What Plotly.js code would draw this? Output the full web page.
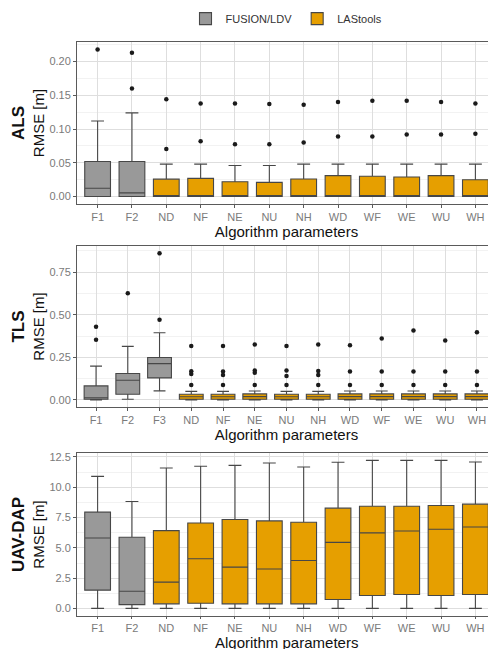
<!DOCTYPE html>
<html>
<head>
<meta charset="utf-8">
<script src="https://cdn.plot.ly/plotly-3.0.1.min.js"></script>
<style>
html,body{margin:0;padding:0;overflow:hidden;background:#fff;}
#chart{width:500px;height:680px;}
</style>
</head>
<body>
<div id="chart"></div>
<script>
// ---------- Data ----------
const catsALS = ['F1','F2','ND','NF','NE','NU','NH','WD','WF','WE','WU','WH'];
const catsTLS = ['F1','F2','F3','ND','NF','NE','NU','NH','WD','WF','WE','WU','WH'];
const catsUAV = ['F1','F2','ND','NF','NE','NU','NH','WD','WF','WE','WU','WH'];

// ALS
const alsFusCats = ['F1','F2'];
const alsFusQ1 = [0.000, 0.000];
const alsFusMed = [0.0124, 0.0055];
const alsFusQ3 = [0.052, 0.052];
const alsFusLo = [0.000, 0.000];
const alsFusHi = [0.112, 0.124];
const alsLasCats = ['ND','NF','NE','NU','NH','WD','WF','WE','WU','WH'];
const alsLasQ1 = [0,0,0,0,0,0,0,0,0,0];
const alsLasMed = [0.001,0.001,0.001,0.001,0.001,0.001,0.001,0.001,0.001,0.001];
const alsLasQ3 = [0.0258,0.027,0.022,0.021,0.026,0.031,0.030,0.029,0.031,0.025];
const alsLasLo = [0,0,0,0,0,0,0,0,0,0];
const alsLasHi = [0.048,0.048,0.046,0.046,0.048,0.048,0.048,0.048,0.048,0.048];
const alsOutCats = ['F1','F2','F2','ND','ND','NF','NF','NE','NE','NU','NU','NH','NH','WD','WD','WF','WF','WE','WE','WU','WU','WH','WH'];
const alsOutVals = [0.218,0.213,0.160,0.144,0.0705,0.138,0.082,0.138,0.0774,0.137,0.0774,0.136,0.080,0.140,0.089,0.142,0.089,0.142,0.092,0.140,0.092,0.138,0.093];

// TLS
const tlsFusCats = ['F1','F2','F3'];
const tlsFusQ1 = [0.004, 0.033, 0.129];
const tlsFusMed = [0.012, 0.115, 0.213];
const tlsFusQ3 = [0.082, 0.155, 0.249];
const tlsFusLo = [0.000, 0.004, 0.053];
const tlsFusHi = [0.198, 0.314, 0.394];
const tlsLasCats = ['ND','NF','NE','NU','NH','WD','WF','WE','WU','WH'];
const tlsLasQ1 = [0.004,0.004,0.004,0.004,0.004,0.004,0.004,0.004,0.004,0.004];
const tlsLasMed = [0.018,0.018,0.019,0.018,0.018,0.019,0.019,0.019,0.019,0.019];
const tlsLasQ3 = [0.033,0.033,0.035,0.033,0.033,0.035,0.035,0.035,0.035,0.035];
const tlsLasLo = [0,0,0,0,0,0,0,0,0,0];
const tlsLasHi = [0.05,0.05,0.052,0.05,0.05,0.052,0.052,0.052,0.052,0.052];
const tlsOutCats = ['F1','F1','F2','F3','F3',
  'ND','ND','ND','ND','NF','NF','NF','NF','NE','NE','NE','NE','NU','NU','NU','NU','NH','NH','NH','NH',
  'WD','WD','WD','WF','WF','WF','WE','WE','WE','WU','WU','WU','WH','WH','WH'];
const tlsOutVals = [0.429,0.353,0.627,0.861,0.471,
  0.316,0.168,0.152,0.087,0.316,0.166,0.146,0.087,0.325,0.173,0.160,0.087,0.316,0.173,0.140,0.087,0.325,0.170,0.146,0.087,
  0.321,0.166,0.087,0.360,0.166,0.087,0.407,0.166,0.087,0.349,0.166,0.087,0.397,0.166,0.087];

// UAV-DAP
const uavFusCats = ['F1','F2'];
const uavFusQ1 = [1.52, 0.33];
const uavFusMed = [5.82, 1.43];
const uavFusQ3 = [7.95, 5.88];
const uavFusLo = [0.02, 0.02];
const uavFusHi = [10.9, 8.83];
const uavLasCats = ['ND','NF','NE','NU','NH','WD','WF','WE','WU','WH'];
const uavLasQ1 = [0.39,0.44,0.39,0.39,0.39,0.75,1.08,1.16,1.08,1.16];
const uavLasMed = [2.18,4.11,3.42,3.26,3.97,5.46,6.24,6.40,6.54,6.73];
const uavLasQ3 = [6.43,7.06,7.34,7.23,7.12,8.28,8.44,8.44,8.50,8.61];
const uavLasLo = [0.02,0.02,0.02,0.02,0.02,0.02,0.02,0.02,0.02,0.02];
const uavLasHi = [11.59,11.73,11.81,12.0,11.67,12.06,12.22,12.22,12.22,12.09];

const seriesNames = ['FUSION/LDV','LAStools'];
const panelNames = ['ALS','TLS','UAV-DAP'];
const xTitle = 'Algorithm parameters';
const yUnit = 'RMSE [m]';

// ---------- Styles ----------
const greyFill = '#999999';
const orangeFill = '#E69F00';
const edge = '#474747';

function boxTrace(name, cats, q1, med, q3, lo, hi, fill, xa, ya, show){
  return {
    type:'box', name:name, x:cats, q1:q1, median:med, q3:q3,
    lowerfence:lo, upperfence:hi, boxpoints:false,
    fillcolor:fill, line:{color:edge, width:1.1}, width:0.75,
    xaxis:xa, yaxis:ya, showlegend:show, legendgroup:name, hoverinfo:'skip'
  };
}
function outTrace(cats, vals, xa, ya){
  return {type:'scatter', mode:'markers', x:cats, y:vals, xaxis:xa, yaxis:ya,
    marker:{color:'#1a1a1a', size:4.5}, showlegend:false, hoverinfo:'skip'};
}

const data = [
  boxTrace(seriesNames[0], alsFusCats, alsFusQ1, alsFusMed, alsFusQ3, alsFusLo, alsFusHi, greyFill, 'x','y', true),
  boxTrace(seriesNames[1], alsLasCats, alsLasQ1, alsLasMed, alsLasQ3, alsLasLo, alsLasHi, orangeFill, 'x','y', true),
  outTrace(alsOutCats, alsOutVals, 'x','y'),
  boxTrace(seriesNames[0], tlsFusCats, tlsFusQ1, tlsFusMed, tlsFusQ3, tlsFusLo, tlsFusHi, greyFill, 'x2','y2', false),
  boxTrace(seriesNames[1], tlsLasCats, tlsLasQ1, tlsLasMed, tlsLasQ3, tlsLasLo, tlsLasHi, orangeFill, 'x2','y2', false),
  outTrace(tlsOutCats, tlsOutVals, 'x2','y2'),
  boxTrace(seriesNames[0], uavFusCats, uavFusQ1, uavFusMed, uavFusQ3, uavFusLo, uavFusHi, greyFill, 'x3','y3', false),
  boxTrace(seriesNames[1], uavLasCats, uavLasQ1, uavLasMed, uavLasQ3, uavLasLo, uavLasHi, orangeFill, 'x3','y3', false)
];

const fontFam = 'Liberation Sans, Arial, sans-serif';
const xTitleFont = {family:fontFam, size:15, color:'#111'};
function xAxis(cats, anchor, withTitle, tlen){
  const ax = {
    type:'category', categoryorder:'array', categoryarray:cats,
    range:[-0.6, cats.length - 0.4], anchor:anchor,
    showgrid:true, gridcolor:'#dedede', gridwidth:1,
    showline:true, mirror:true, linecolor:'#5a5a5a', linewidth:1,
    ticks:'outside', ticklen:tlen, tickcolor:'#5a5a5a',
    tickfont:{family:fontFam, size:11, color:'#7a7a7a'},
    zeroline:false, automargin:false, fixedrange:true
  };
  if (withTitle) ax.title = {text:xTitle, font:xTitleFont, standoff:3};
  return ax;
}
function yAxis(name, domain, range, dtick, fmt, anchor){
  return {
    domain:domain, range:range, anchor:anchor, dtick:dtick, tick0:0, tickformat:fmt,
    showgrid:true, gridcolor:'#dedede', gridwidth:1,
    minor:{dtick:dtick/2, showgrid:true, gridcolor:'#efefef', gridwidth:0.8, ticks:''},
    showline:true, mirror:true, linecolor:'#5a5a5a', linewidth:1,
    ticks:'outside', ticklen:3, tickcolor:'#5a5a5a',
    tickfont:{family:fontFam, size:11, color:'#7a7a7a'},
    title:{text:'<b><span style="font-size:17px">'+name+'</span></b><br>'+yUnit,
      font:{family:fontFam, size:15, color:'#111'}, standoff:1},
    zeroline:false, automargin:false, fixedrange:true
  };
}

const layout = {
  width:500, height:680,
  margin:{l:77, r:4, t:42, b:64},
  paper_bgcolor:'#fff', plot_bgcolor:'#fff',
  boxmode:'overlay',
  font:{family:fontFam},
  showlegend:true,
  legend:{orientation:'h', x:0.5, xanchor:'center', y:1.066, yanchor:'top',
    font:{family:fontFam, size:11, color:'#333'}, itemwidth:30, traceorder:'normal'},
  xaxis: xAxis(catsALS, 'y', true, 3),
  yaxis: yAxis(panelNames[0], [0.7178, 1], [-0.011, 0.229], 0.05, '.2f', 'x'),
  xaxis2: xAxis(catsTLS, 'y2', true, 3),
  yaxis2: yAxis(panelNames[1], [0.3641, 0.6446], [-0.042, 0.904], 0.25, '.2f', 'x2'),
  xaxis3: xAxis(catsUAV, 'y3', false, 2),
  yaxis3: yAxis(panelNames[2], [0, 0.284], [-0.61, 12.83], 2.5, '.1f', 'x3'),
  annotations:[{
    text:xTitle, font:xTitleFont, showarrow:false, borderpad:0,
    xref:'x3 domain', yref:'paper', x:0.5, y:-0.0456, xanchor:'center', yanchor:'middle'
  }]
};

Plotly.newPlot('chart', data, layout, {staticPlot:true, displayModeBar:false});
</script>
</body>
</html>
